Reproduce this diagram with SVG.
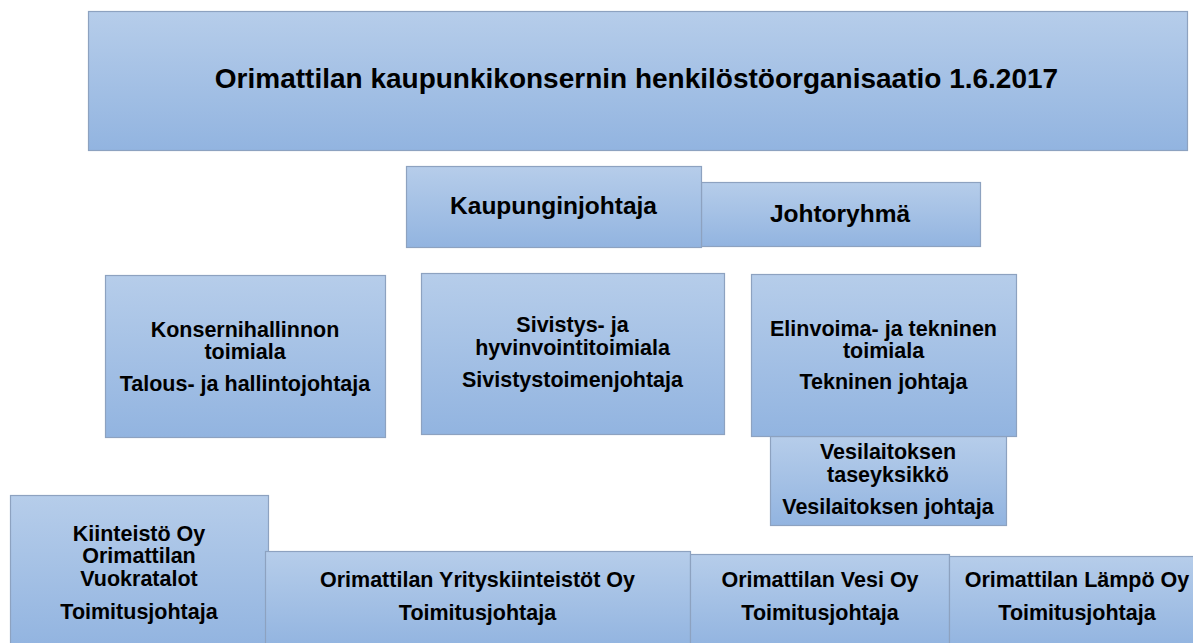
<svg xmlns="http://www.w3.org/2000/svg" width="1193" height="643" viewBox="0 0 1193 643">
<defs>
<linearGradient id="g" x1="0" y1="0" x2="0" y2="1">
<stop offset="0" stop-color="#b6cdea"/>
<stop offset="1" stop-color="#92b4e0"/>
</linearGradient>
<style>
.b{fill:url(#g);stroke:#8da2c0;stroke-width:1.2}
text{font-family:"Liberation Sans",Arial,sans-serif;font-weight:bold;fill:#000;text-anchor:middle}
.t{font-size:28px}
.m{font-size:24.5px}
.s{font-size:21.5px}
</style>
</defs>
<rect width="1193" height="643" fill="#fff"/>
<g id="connectors"/>
<g id="title">
<rect class="b" x="88.5" y="11.5" width="1099" height="139"/>
<text class="t" x="636.5" y="88">Orimattilan kaupunkikonsernin henkilöstöorganisaatio 1.6.2017</text>
</g>
<g id="johtoryhma">
<rect class="b" x="701.5" y="182.5" width="279" height="64"/>
<text class="m" x="840" y="222">Johtoryhmä</text>
</g>
<g id="kaupunginjohtaja">
<rect class="b" x="406.5" y="166.5" width="295" height="81"/>
<text class="m" x="553.5" y="214">Kaupunginjohtaja</text>
</g>
<g id="vesilaitos">
<rect class="b" x="770.5" y="436.5" width="236" height="89"/>
<text class="s" x="888" y="459">Vesilaitoksen</text>
<text class="s" x="888" y="482">taseyksikkö</text>
<text class="s" x="888" y="514">Vesilaitoksen johtaja</text>
</g>
<g id="konsernihallinto">
<rect class="b" x="105.5" y="275.5" width="280" height="162"/>
<text class="s" x="245" y="337">Konsernihallinnon</text>
<text class="s" x="245" y="359">toimiala</text>
<text class="s" x="245" y="391">Talous- ja hallintojohtaja</text>
</g>
<g id="sivistys">
<rect class="b" x="421.5" y="273.5" width="303" height="161"/>
<text class="s" x="572.5" y="332">Sivistys- ja</text>
<text class="s" x="572.5" y="355">hyvinvointitoimiala</text>
<text class="s" x="572.5" y="387">Sivistystoimenjohtaja</text>
</g>
<g id="elinvoima">
<rect class="b" x="751.5" y="274.5" width="265" height="162"/>
<text class="s" x="883.5" y="336">Elinvoima- ja tekninen</text>
<text class="s" x="883.5" y="358">toimiala</text>
<text class="s" x="883.5" y="389">Tekninen johtaja</text>
</g>
<g id="vuokratalot">
<rect class="b" x="10.5" y="495.5" width="258" height="152"/>
<text class="s" x="139" y="541">Kiinteistö Oy</text>
<text class="s" x="139" y="563">Orimattilan</text>
<text class="s" x="139" y="586">Vuokratalot</text>
<text class="s" x="139" y="619">Toimitusjohtaja</text>
</g>
<g id="yrityskiinteistot">
<rect class="b" x="265.5" y="551.5" width="425" height="96"/>
<text class="s" x="477.5" y="587">Orimattilan Yrityskiinteistöt Oy</text>
<text class="s" x="477.5" y="620">Toimitusjohtaja</text>
</g>
<g id="vesi">
<rect class="b" x="690.5" y="554.5" width="259" height="93"/>
<text class="s" x="820" y="587">Orimattilan Vesi Oy</text>
<text class="s" x="820" y="620">Toimitusjohtaja</text>
</g>
<g id="lampo">
<rect class="b" x="949.5" y="556.5" width="254" height="91"/>
<text class="s" x="1077" y="587">Orimattilan Lämpö Oy</text>
<text class="s" x="1077" y="620">Toimitusjohtaja</text>
</g>
</svg>
